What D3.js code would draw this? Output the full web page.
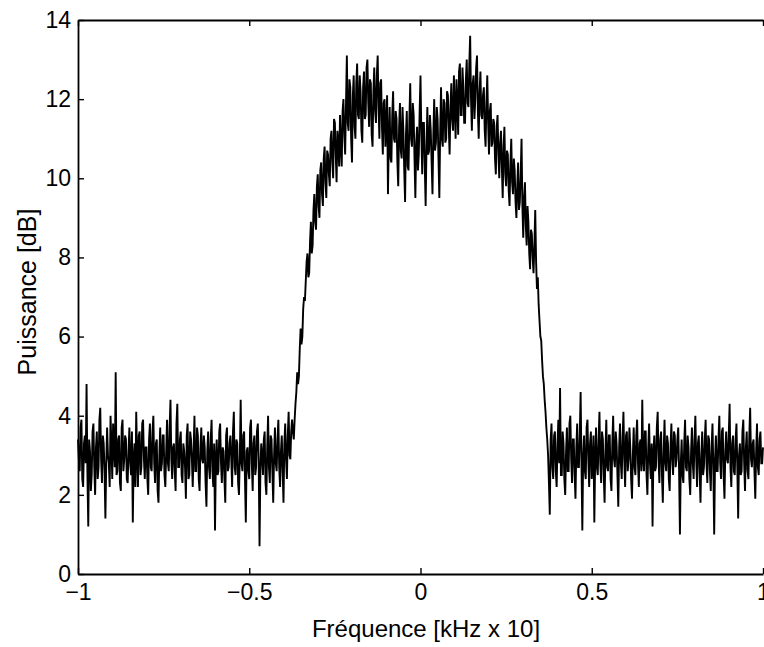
<!DOCTYPE html>
<html>
<head>
<meta charset="utf-8">
<script src="https://cdn.jsdelivr.net/npm/d3@7"></script>
<style>
  body { margin: 0; background: #fff; }
  svg { display: block; font-family: "Liberation Sans", Arial, Helvetica, sans-serif; }
</style>
</head>
<body>
<div id="chart"></div>
<script>
// Noise floor left of the band (f = -1 ... -0.3725)
const noiseLeft = [
    3.4,2.9, 2.6,3.7, 3.9,2.4, 2.2,3.3, 3.5,2.8, 4.8,2.5, 1.2,3.4, 3.1,2.1, 2.5,3.6, 3.8,2.7,
    2.0,3.2, 3.6,2.4, 2.7,3.9, 4.2,2.9, 2.3,3.5, 3.3,2.6, 1.4,2.8, 3.7,3.0, 2.8,2.2, 4.0,3.3,
    2.4,3.8, 3.2,2.7, 5.1,2.5, 2.6,3.4, 3.5,2.3, 2.1,3.7, 3.9,2.6, 2.9,3.5, 3.4,2.4, 2.3,3.1,
    3.7,2.8, 2.5,3.6, 1.3,2.9, 3.3,2.2, 4.1,3.0, 2.2,3.5, 3.6,2.5, 2.7,3.8, 3.9,2.9, 2.4,3.2,
    3.2,2.4, 2.0,3.4, 3.8,2.7, 2.6,3.6, 4.0,2.8, 2.3,3.3, 3.4,2.1, 1.8,3.0, 3.7,2.6, 2.8,3.5,
    3.5,2.5, 2.2,3.1, 3.9,2.8, 2.6,3.7, 4.4,2.9, 2.4,3.2, 3.3,2.6, 2.1,3.8, 4.3,2.7, 2.7,3.4,
    3.6,2.5, 2.3,3.3, 3.1,2.7, 1.9,3.5, 3.8,2.4, 2.5,3.6, 3.4,2.9, 2.2,3.1, 4.0,2.6, 2.6,3.7,
    3.5,2.4, 2.1,3.2, 3.7,2.9, 2.8,3.5, 3.2,2.3, 1.7,3.1, 3.6,2.7, 2.4,3.4, 3.9,2.6, 2.2,3.3,
    1.1,2.9, 3.4,2.5, 2.6,3.6, 3.8,2.8, 2.3,3.2, 3.1,2.4, 1.8,3.5, 3.7,2.6, 2.7,3.3, 3.5,2.9,
    2.2,3.6, 4.1,2.7, 2.5,3.4, 3.3,2.3, 2.0,3.0, 4.4,2.8, 2.6,3.5, 3.6,2.4, 1.3,3.1, 3.2,2.6,
    2.4,3.7, 3.9,2.8, 2.1,3.3, 3.5,2.5, 2.7,3.6, 3.8,2.9, 0.7,2.6, 3.3,3.0, 2.5,3.4, 3.6,2.3,
    2.0,3.2, 4.0,2.7, 2.3,3.5, 3.4,2.6, 1.8,3.0, 3.7,2.8, 2.6,3.4, 3.9,2.7, 2.2,3.1, 3.5,2.6,
    1.8,3.3, 3.8,2.9, 2.4,3.5, 4.1,3.0, 2.9,3.6, 3.9,3.6
];

// Signal band (f = -0.37 ... 0.37)
const band = [
    3.4,3.9, 4.3,4.6, 5.1,4.8, 5.0,5.7, 6.2,5.8, 6.0,6.7, 7.0,6.9, 7.4,7.9, 8.1,7.5, 7.6,8.4,
    8.9,8.1, 8.3,9.2, 9.6,8.9, 8.7,9.8, 10.1,9.3, 9.0,10.2, 10.4,9.6, 9.3,10.5, 10.8,9.9, 9.5,10.7,
    10.6,10.1, 9.8,11.0, 11.2,10.4, 10.0,11.5, 11.4,10.6, 9.9,11.2, 10.9,10.3, 11.6,10.8, 10.3,11.7, 12.0,11.1,
    10.6,11.9, 13.1,11.4, 11.2,12.5, 12.3,11.0, 10.4,12.1, 12.6,11.3, 11.0,12.4, 12.9,11.6, 11.5,12.6, 12.2,11.2,
    10.9,12.3, 12.7,11.5, 11.6,12.8, 13.0,11.9, 11.3,12.5, 12.4,11.1, 10.8,12.2, 12.8,11.7, 11.4,12.6, 13.1,11.8,
    11.0,12.4, 12.5,11.3, 10.6,11.9, 12.0,10.8, 11.3,12.1, 9.6,11.0, 11.8,10.5, 10.4,11.6, 12.2,11.0, 10.9,11.7,
    11.5,10.4, 9.8,11.3, 11.9,10.7, 10.5,11.8, 11.2,10.2, 9.4,11.1, 11.7,10.3, 10.2,11.5, 12.4,11.0, 10.8,11.9,
    11.6,10.5, 9.5,10.9, 11.3,10.2, 10.6,11.7, 12.6,11.1, 10.1,11.4, 11.4,10.3, 9.3,10.8, 11.8,10.6, 10.7,11.6,
    11.2,10.4, 9.6,11.1, 12.0,10.7, 10.9,11.8, 11.5,10.5, 9.5,11.2, 12.3,11.0, 10.8,12.0, 11.9,10.9, 11.0,12.2,
    12.1,11.3, 10.6,11.8, 12.4,11.5, 11.2,12.6, 11.8,11.0, 12.5,11.9, 11.1,12.7, 12.9,11.6, 11.6,12.8, 12.3,11.4,
    11.4,12.5, 13.0,11.9, 11.8,12.9, 13.6,12.0, 11.2,12.4, 12.6,11.5, 12.0,12.8, 13.1,11.7, 11.0,12.2, 12.7,11.6,
    11.5,12.1, 12.3,11.2, 10.8,11.9, 12.6,11.4, 10.6,11.7, 11.9,10.8, 10.9,11.5, 11.4,10.5, 10.1,11.3, 11.6,10.6,
    10.0,10.9, 11.2,10.3, 9.5,10.8, 11.3,10.1, 9.8,10.7, 10.6,9.7, 9.3,10.4, 11.0,9.9, 9.6,10.5, 10.2,9.4,
    9.0,9.8, 10.4,9.2, 9.4,10.1, 11.0,9.3, 8.5,9.5, 9.9,8.8, 8.3,9.3, 8.9,8.1, 7.7,8.7, 8.6,8.0,
    7.6,8.3, 9.2,7.9, 7.2,7.5, 6.8,6.4, 6.0,5.9, 5.4,5.0, 4.8,4.4, 4.1,3.7, 3.4
];

// Noise floor right of the band (f = 0.3725 ... 1)
const noiseRight = [
    3.0,2.3, 1.5,3.4, 3.8,2.7, 2.4,3.5, 3.6,2.6, 2.2,3.3, 3.9,2.8, 4.7,2.5, 2.5,3.6, 3.3,2.4,
    2.0,3.1, 3.7,2.6, 2.6,3.8, 4.0,2.9, 2.3,3.4, 3.4,2.5, 1.9,3.2, 3.8,2.7, 2.7,3.5, 4.6,2.8,
    1.1,3.0, 3.5,2.6, 2.4,3.7, 3.9,2.9, 2.2,3.3, 3.6,2.4, 2.8,3.5, 1.3,2.9, 3.7,2.7, 2.5,3.4,
    4.1,2.8, 2.3,3.6, 3.4,2.5, 1.8,3.1, 3.9,2.7, 2.6,3.5, 3.5,2.4, 2.1,3.3, 4.0,2.9, 2.7,3.6,
    3.3,2.5, 1.7,3.2, 3.8,2.8, 2.4,3.4, 4.1,2.9, 2.2,3.5, 3.6,2.6, 2.9,3.7, 3.2,2.4, 1.9,3.0,
    3.7,2.7, 2.5,3.5, 3.9,2.8, 2.2,3.3, 3.4,2.6, 4.4,2.9, 2.6,3.6, 3.6,2.5, 2.0,3.2, 3.8,2.8,
    2.4,3.3, 1.2,3.0, 3.5,2.6, 2.7,3.7, 4.1,2.9, 2.3,3.4, 3.6,2.5, 1.8,3.1, 3.9,2.8, 2.6,3.5,
    3.3,2.4, 2.1,3.2, 3.8,2.9, 2.5,3.6, 3.5,2.7, 2.9,3.4, 3.7,2.6, 1.0,2.8, 3.4,2.5, 2.3,3.3,
    3.9,2.7, 2.6,3.5, 3.2,2.4, 2.0,3.1, 3.7,2.8, 2.4,3.4, 4.0,2.9, 2.2,3.3, 3.5,2.6, 1.8,3.0,
    3.6,2.5, 2.7,3.4, 3.9,2.8, 2.3,3.5, 3.4,2.6, 2.1,3.2, 3.8,2.7, 1.0,2.9, 3.5,2.6, 2.6,3.4,
    4.0,2.8, 2.4,3.6, 3.7,2.5, 1.9,3.1, 3.6,2.9, 2.8,3.5, 4.3,2.7, 2.2,3.3, 3.5,2.6, 2.5,3.4,
    3.8,2.7, 1.4,3.0, 3.3,2.5, 2.6,3.6, 3.9,2.8, 2.1,3.2, 3.6,2.6, 2.4,3.5, 4.2,2.9, 2.7,3.3,
    3.4,2.6, 1.9,3.1, 3.8,2.7, 2.5,3.4, 3.6,2.8, 2.8,3.2
];

const xTicks = [-1, -0.5, 0, 0.5, 1];
const yTicks = [0, 2, 4, 6, 8, 10, 12, 14];
const xLabel = "Fréquence [kHz x 10]";
const yLabel = "Puissance [dB]";

const power = noiseLeft.concat(band, noiseRight);
// evenly spaced frequency samples between -1 and 1
const step = 2 / (power.length - 1);
const series = power.map((v, i) => ({ f: -1 + i * step, p: v }));

const svg = d3.select("#chart").append("svg")
    .attr("width", 764)
    .attr("height", 647);

const x = d3.scaleLinear().domain([-1, 1]).range([78, 763]);
const y = d3.scaleLinear().domain([0, 14]).range([574, 20]);

const line = d3.line()
    .x(d => x(d.f))
    .y(d => y(d.p));

svg.append("path")
    .datum(series)
    .attr("fill", "none")
    .attr("stroke", "#000")
    .attr("stroke-width", 1.9)
    .attr("d", line);

// axes, ticks point inward like matlab
const fmt = d => d3.format("")(d).replace("-", "\u2212");

const gLeft = svg.append("g")
    .attr("transform", `translate(${x(-1)},0)`)
    .call(d3.axisLeft(y).tickValues(yTicks).tickSizeInner(-6).tickSizeOuter(0).tickPadding(7));

const gBottom = svg.append("g")
    .attr("transform", `translate(0,${y(0)})`)
    .call(d3.axisBottom(x).tickValues(xTicks).tickFormat(fmt).tickSizeInner(-6).tickSizeOuter(0).tickPadding(10));

const gTop = svg.append("g")
    .attr("transform", `translate(0,${y(14)})`)
    .call(d3.axisTop(x).tickValues(xTicks).tickFormat("").tickSizeInner(-6).tickSizeOuter(0));

[gLeft, gBottom, gTop].forEach(g => {
    g.select(".domain").attr("stroke", "#000").attr("stroke-width", 1.8);
    g.selectAll(".tick line").attr("stroke", "#000").attr("stroke-width", 1.4);
    g.selectAll(".tick text")
        .attr("fill", "#000")
        .style("font-size", "23px")
        .style("font-family", "'Liberation Sans', Arial, Helvetica, sans-serif");
});

svg.append("text")
    .attr("x", 426)
    .attr("y", 637)
    .attr("text-anchor", "middle")
    .style("font-size", "24px")
    .text(xLabel);

svg.append("text")
    .attr("transform", `translate(36,292) rotate(-90)`)
    .attr("text-anchor", "middle")
    .style("font-size", "25px")
    .text(yLabel);
</script>
</body>
</html>
